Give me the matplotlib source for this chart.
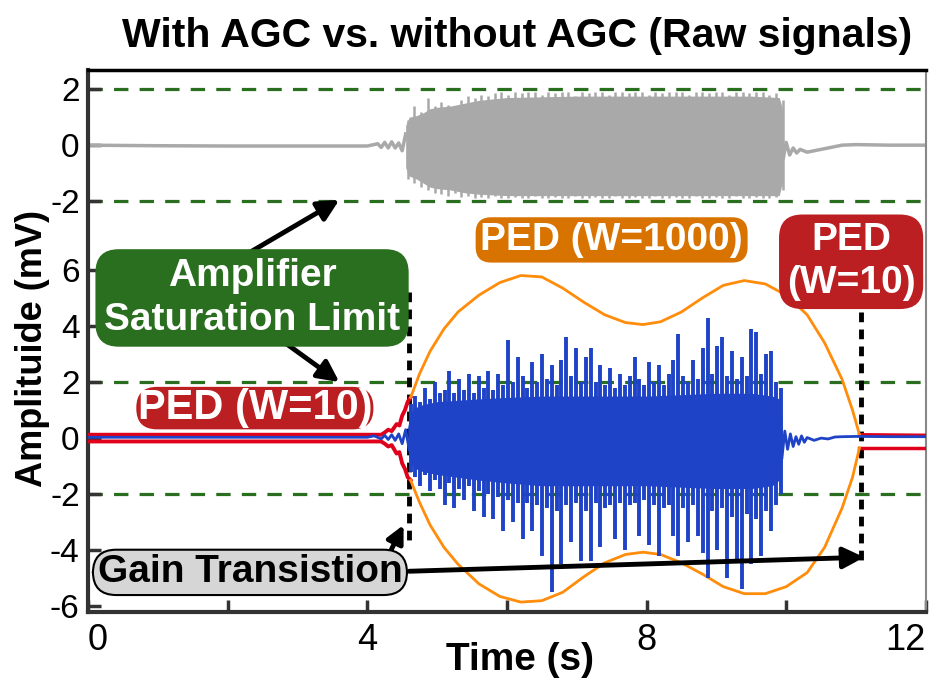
import numpy as np
import matplotlib.pyplot as plt

plt.rcParams['font.family'] = ['Liberation Sans', 'DejaVu Sans']

# offset used to stack the "without AGC" trace above the AGC trace
top_offset = 10.45

# ---- without AGC (grey, top trace) ----
gray_pre_t = [0, 1, 2, 3, 4.0, 4.15, 4.2, 4.25, 4.3, 4.35, 4.4, 4.45, 4.5, 4.55]
gray_pre_v = [0, -0.02, -0.03, -0.03, -0.03, 0.05, -0.08, 0.1, -0.1, 0.12, -0.1, 0.08, -0.2, 0.4]
gray_core_t = [4.55, 4.6, 4.7, 4.8, 4.9, 5.0, 5.2, 5.4, 5.6, 6.0, 7.0, 8.0, 9.0, 9.5, 9.9, 9.96]
gray_core_up = [0.7, 1.0, 1.05, 1.15, 1.3, 1.35, 1.4, 1.5, 1.6, 1.7, 1.75, 1.75, 1.75, 1.75, 1.7, 1.2]
gray_core_dn = [-0.8, -1.1, -1.2, -1.35, -1.5, -1.55, -1.6, -1.7, -1.75, -1.8, -1.8, -1.8, -1.8, -1.8, -1.8, -1.2]
gray_up = [0.9, 1.4, 1.2, 1.7, 1.4, 1.55, 1.45, 1.15, 1.6, 1.75, 1.7, 1.8, 1.75, 1.85, 1.9,
           1.8, 1.9, 1.85, 1.9, 1.9, 1.8, 1.9, 1.85, 1.9, 1.9, 1.75, 1.9, 1.85, 1.9, 1.9,
           1.8, 1.9, 1.9, 1.85, 1.9, 1.9, 1.8, 1.9, 1.85, 1.9, 1.9, 1.9, 1.8, 1.9, 1.9,
           1.85, 1.9, 1.9, 1.8, 1.9, 1.9, 1.85, 1.9, 1.9, 1.8, 1.85, 1.6]
gray_dn = [-1.2, -1.35, -1.5, -1.6, -1.7, -1.75, -1.8, -1.7, -1.85, -1.8, -1.9, -1.85, -1.9, -1.8, -1.9,
           -1.9, -1.85, -1.9, -1.9, -1.8, -1.9, -1.9, -1.85, -1.9, -1.9, -1.8, -1.9, -1.9, -1.85, -1.9,
           -1.9, -1.8, -1.9, -1.9, -1.85, -1.9, -1.9, -1.8, -1.9, -1.9, -1.85, -1.9, -1.9, -1.8, -1.9,
           -1.9, -1.85, -1.9, -1.9, -1.8, -1.9, -1.9, -1.85, -1.9, -1.9, -1.85, -1.6]
gray_post_t = [9.96, 10.0, 10.05, 10.1, 10.15, 10.2, 10.3, 10.4, 10.5, 10.6, 10.7, 10.8, 11.0, 11.5, 12.0]
gray_post_v = [-0.45, 0.1, -0.35, -0.1, -0.28, -0.15, -0.25, -0.2, -0.15, -0.1, -0.05, 0.0, 0.02, 0.0, 0.0]

# ---- with AGC (blue, bottom trace) ----
blue_pre_t = [0, 2, 4.0, 4.1, 4.2, 4.25, 4.3, 4.35, 4.4, 4.45, 4.5, 4.55, 4.6]
blue_pre_v = [0.03, 0.03, 0.03, 0.08, -0.03, 0.1, -0.05, 0.12, -0.08, 0.15, -0.2, 0.3, -0.4]
blue_core_t = [4.58, 4.62, 4.7, 4.8, 5.0, 5.3, 5.6, 6.0, 6.5, 7.0, 7.5, 8.0, 8.5, 9.0, 9.5, 9.8, 9.9, 9.94]
blue_core_up = [0.4, 0.9, 1.1, 1.2, 1.3, 1.35, 1.4, 1.45, 1.5, 1.5, 1.5, 1.5, 1.55, 1.6, 1.6, 1.5, 1.4, 0.8]
blue_core_dn = [-0.4, -0.9, -1.1, -1.2, -1.3, -1.4, -1.5, -1.6, -1.7, -1.7, -1.7, -1.7, -1.75, -1.8, -1.8, -1.7, -1.5, -0.8]
blue_up = [1.2, 1.5, 1.3, 1.8, 1.4, 2.0, 1.6, 1.7, 2.4, 1.6, 2.1, 1.7, 2.3, 1.6, 2.2, 1.8, 2.4, 1.7,
           2.3, 1.9, 3.5, 2.0, 2.9, 2.2, 1.8, 2.7, 2.0, 3.0, 2.1, 2.6, 1.9, 2.8, 3.6, 2.2, 3.2, 2.0,
           2.9, 3.2, 2.0, 2.6, 1.9, 2.5, 1.8, 2.3, 1.9, 2.2, 2.9, 2.1, 1.9, 2.7, 2.0, 2.6, 1.9, 2.3,
           2.8, 3.7, 2.2, 2.0, 2.8, 2.1, 3.2, 4.3, 2.3, 3.3, 3.6, 2.2, 3.1, 2.1, 2.9, 2.2, 3.9, 3.8,
           2.3, 3.0, 3.1, 2.0, 1.8]
blue_dn = [-1.2, -1.4, -1.7, -1.3, -1.9, -1.5, -1.8, -2.4, -1.6, -2.5, -1.8, -2.2, -1.7, -2.6, -1.9,
           -2.8, -2.0, -2.9, -2.1, -3.3, -2.2, -3.0, -2.3, -3.6, -2.3, -3.3, -2.4, -4.2, -2.5, -5.5,
           -2.6, -4.5, -2.4, -3.7, -2.3, -4.4, -2.6, -4.4, -2.3, -3.9, -2.5, -2.4, -3.6, -2.3, -4.0,
           -2.4, -2.3, -3.5, -2.2, -3.8, -2.4, -4.2, -2.5, -2.4, -3.5, -4.2, -2.5, -3.7, -2.4, -3.5,
           -4.1, -5.0, -2.6, -4.0, -2.5, -5.0, -2.8, -4.3, -5.4, -2.7, -4.5, -2.9, -4.2, -2.6, -3.3,
           -2.4, -2.0]
blue_post_t = [9.94, 9.98, 10.02, 10.06, 10.1, 10.14, 10.18, 10.22, 10.26, 10.3, 10.4, 10.5, 10.6, 10.7, 10.8, 11.0, 11.5, 12.0]
blue_post_v = [-0.7, 0.25, -0.4, 0.15, -0.3, 0.05, -0.22, 0.08, -0.15, 0.02, -0.08, 0.0, -0.03, 0.04, 0.05, 0.06, 0.05, 0.05]

# ---- PED envelopes ----
red_pre_t = [0, 4.2, 4.25, 4.3, 4.35, 4.42, 4.46, 4.5, 4.54, 4.58, 4.62]
red_pre_up = [0.12, 0.12, 0.2, 0.3, 0.25, 0.5, 0.45, 0.8, 1.0, 1.3, 1.45]
red_pre_dn = [-0.12, -0.12, -0.2, -0.3, -0.25, -0.55, -0.5, -0.9, -1.1, -1.4, -1.5]
red_post_t = [11.05, 12.0]
red_post_up = [0.12, 0.1]
red_post_dn = [-0.35, -0.35]

orange_t = [4.62, 4.66, 4.75, 4.9, 5.1, 5.3, 5.6, 5.9, 6.2, 6.5, 6.8, 7.1, 7.4, 7.7, 7.95,
            8.2, 8.5, 8.8, 9.1, 9.4, 9.7, 10.0, 10.3, 10.55, 10.8, 10.95, 11.05]
orange_up = [1.45, 1.7, 2.3, 3.1, 3.9, 4.5, 5.1, 5.55, 5.8, 5.75, 5.35, 4.85, 4.4, 4.12, 4.05,
             4.15, 4.5, 5.0, 5.45, 5.62, 5.5, 5.1, 4.4, 3.4, 2.1, 1.0, 0.12]
orange_dn = [-1.5, -1.75, -2.3, -3.1, -3.9, -4.5, -5.2, -5.65, -5.85, -5.8, -5.5, -4.95, -4.45, -4.15, -4.07,
             -4.15, -4.45, -4.85, -5.3, -5.55, -5.55, -5.3, -4.8, -3.9, -2.5, -1.4, -0.35]

ytick_pos = [-6, -4, -2, 0, 2, 4, 6, top_offset - 2, top_offset, top_offset + 2]
ytick_lab = ['-6', '-4', '-2', '0', '2', '4', '6', '-2', '0', '2']
xtick_pos = [0, 2, 4, 6, 8, 10, 12]
xtick_lab = ['0', '', '4', '', '8', '', '12']

gray = '#a9a9a9'
blue = '#1f43c6'
red = '#e0001b'
orange = '#ff8c0a'
dgreen = '#2a6e1f'

fig = plt.figure(figsize=(9.33, 6.84), dpi=100)
ax = fig.add_axes([0.0943, 0.105, 0.898, 0.793])

# saturation limits
for y in [-2, 2, top_offset - 2, top_offset + 2]:
    ax.axhline(y, color=dgreen, lw=2.3, dashes=(4.5, 3.5), zorder=1)

# grey trace (no AGC)
ax.plot(gray_pre_t, np.array(gray_pre_v) + top_offset, color=gray, lw=2.5, zorder=2)
ax.fill_between(gray_core_t, np.array(gray_core_dn) + top_offset, np.array(gray_core_up) + top_offset,
                color=gray, lw=0, zorder=2)
gray_t = np.linspace(4.58, 9.95, len(gray_up))
ax.vlines(gray_t, np.array(gray_dn) + top_offset, np.array(gray_up) + top_offset, color=gray, lw=1.8, zorder=2)
ax.plot(gray_post_t, np.array(gray_post_v) + top_offset, color=gray, lw=2.5, zorder=2)

# red PED (W=10)
ax.plot(red_pre_t, red_pre_up, color=red, lw=2.8, zorder=3)
ax.plot(red_pre_t, red_pre_dn, color=red, lw=2.8, zorder=3)
ax.plot(red_post_t, red_post_up, color=red, lw=2.5, zorder=3)
ax.plot(red_post_t, red_post_dn, color=red, lw=2.5, zorder=3)

# orange PED (W=1000)
ax.plot(orange_t, orange_up, color=orange, lw=2, zorder=3)
ax.plot(orange_t, orange_dn, color=orange, lw=2, zorder=3)

# blue trace (with AGC)
ax.plot(blue_pre_t, blue_pre_v, color=blue, lw=2, zorder=4)
ax.fill_between(blue_core_t, blue_core_dn, blue_core_up, color=blue, lw=0, zorder=4)
blue_t = np.linspace(4.62, 9.92, len(blue_up))
ax.vlines(blue_t, blue_dn, blue_up, color=blue, lw=2.8, zorder=4)
ax.plot(blue_post_t, blue_post_v, color=blue, lw=2, zorder=4)

# gain transition markers
ax.plot([4.6, 4.6], [5.2, -3.75], color='black', lw=3.5, dashes=(2, 1.5), zorder=2.5)
ax.plot([11.07, 11.07], [4.5, -4.4], color='black', lw=3.5, dashes=(2, 1.5), zorder=2.5)

arrow = dict(arrowstyle='-|>', color='black', lw=3.5, mutation_scale=32, shrinkA=0, shrinkB=0)
ax.annotate('', xy=(3.6, 8.5), xytext=(2.3, 6.6), arrowprops=arrow, zorder=5)
ax.annotate('', xy=(3.6, 2.0), xytext=(2.6, 3.8), arrowprops=arrow, zorder=5)
ax.annotate('', xy=(4.52, -3.1), xytext=(4.3, -4.2), arrowprops=dict(arrow, mutation_scale=26), zorder=5)
ax.annotate('', xy=(11.12, -4.25), xytext=(4.6, -4.75), arrowprops=arrow, zorder=5)

lab = dict(ha='center', va='center', fontweight='bold', color='white', zorder=6)
ax.text(2.35, 5.0, 'Amplifier\nSaturation Limit', linespacing=1.3, fontsize=28,
        bbox=dict(boxstyle='round,pad=0.22,rounding_size=0.6', fc=dgreen, ec='none'), **lab)
ax.text(2.39, 1.07, 'PED (W=10)', fontsize=30,
        bbox=dict(boxstyle='round,pad=0.03,rounding_size=0.5', fc='#bb1f22', ec='none'), **lab)
ax.text(7.5, 7.07, 'PED (W=1000)', fontsize=28,
        bbox=dict(boxstyle='round,pad=0.12,rounding_size=0.4', fc='#d87300', ec='none'), **lab)
ax.text(10.93, 6.29, 'PED\n(W=10)', linespacing=1.25, fontsize=28,
        bbox=dict(boxstyle='round,pad=0.2,rounding_size=0.6', fc='#bb1f22', ec='none'), **lab)
ax.text(2.32, -4.79, 'Gain Transistion', ha='center', va='center', fontsize=28, fontweight='bold',
        color='black', zorder=6,
        bbox=dict(boxstyle='round,pad=0.12,rounding_size=0.6', fc='#d6d6d6', ec='black', lw=1.5))

ax.set_xlim(0, 12)
ax.set_ylim(-6.21, 13.14)
ax.set_xticks(xtick_pos)
ax.set_xticklabels(xtick_lab, fontsize=26)
ax.get_xticklabels()[-1].set_horizontalalignment('right')
ax.get_xticklabels()[0].set_horizontalalignment('left')
ax.set_yticks(ytick_pos)
ax.set_yticklabels(ytick_lab, fontsize=24)
ax.tick_params(direction='in', length=9, width=2.5, color='#333333', pad=6)
ax.tick_params(axis='x', pad=8)

ax.spines['top'].set_linewidth(2.5)
ax.spines['top'].set_color('black')
ax.spines['left'].set_linewidth(3)
ax.spines['left'].set_color('#333333')
ax.spines['bottom'].set_linewidth(3)
ax.spines['bottom'].set_color('#333333')
ax.spines['right'].set_linewidth(1.5)
ax.spines['right'].set_color('#888888')

fig.text(0.554, 0.948, 'With AGC vs. without AGC (Raw signals)', ha='center', va='center',
         fontsize=29.5, fontweight='bold')
fig.text(0.557, 0.035, 'Time (s)', ha='center', va='center', fontsize=28, fontweight='bold')
fig.text(0.035, 0.49, 'Amplituide (mV)', ha='center', va='center', rotation=90,
         fontsize=26, fontweight='bold')

fig.savefig('out.png', dpi=100)
